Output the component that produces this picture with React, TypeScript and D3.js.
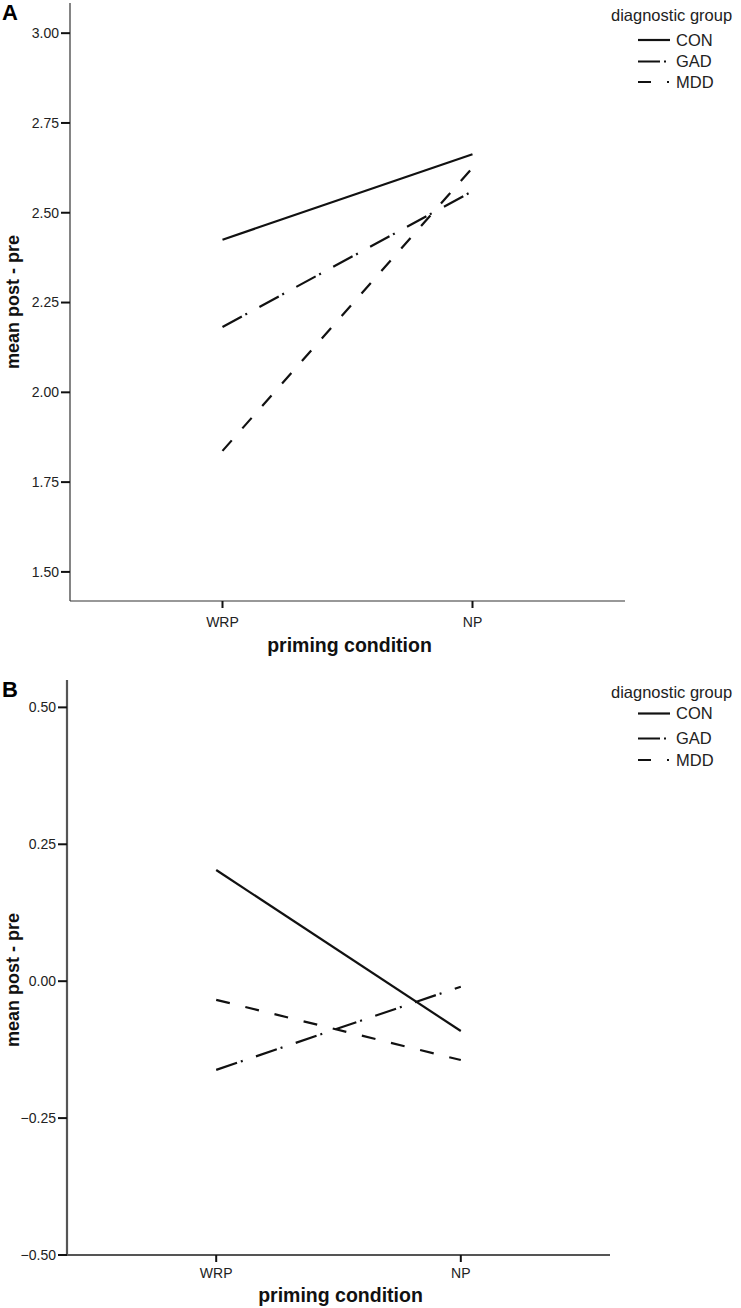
import React from "react";
import * as d3 from "d3";

const categories = ["WRP", "NP"];
const groups = ["CON", "GAD", "MDD"];

// Panel A values (WRP, NP)
const conA = [2.425, 2.663];
const gadA = [2.182, 2.56];
const mddA = [1.837, 2.625];
const ticksA = [1.5, 1.75, 2.0, 2.25, 2.5, 2.75, 3.0];

// Panel B values (WRP, NP)
const conB = [0.203, -0.091];
const gadB = [-0.162, -0.01];
const mddB = [-0.034, -0.144];
const ticksB = [-0.5, -0.25, 0.0, 0.25, 0.5];

const dashes: Record<string, string | undefined> = {
  CON: undefined,
  GAD: "22,4,2,14",
  MDD: "14,16",
};

const FONT = "'Liberation Sans', Arial, sans-serif";

type PanelProps = {
  letter: string;
  letterY: number;
  series: number[][];
  ticks: number[];
  yDomain: [number, number];
  yRange: [number, number];
  xRange: [number, number];
  axisColor: string;
  axisWidth: number;
  legendTitleY: number;
  legendYs: number[];
  xLabelY: number;
  xTitleY: number;
  yTitleY: number;
};

function Panel(p: PanelProps) {
  const x = d3.scalePoint<string>().domain(categories).range(p.xRange).padding(0.61);
  const y = d3.scaleLinear().domain(p.yDomain).range(p.yRange);
  const line = d3
    .line<number>()
    .x((_, i) => x(categories[i]) as number)
    .y((v) => y(v));
  const x0 = p.xRange[0];
  const yBottom = p.yRange[0];
  const yTop = p.yRange[1];
  const xTitleX = ((x(categories[0]) as number) + (x(categories[1]) as number)) / 2 + 2;
  return (
    <g>
      <text x={2} y={p.letterY} fontFamily={FONT} fontWeight="bold" fontSize={22} fill="#000">
        {p.letter}
      </text>
      {/* y axis */}
      <line x1={x0} x2={x0} y1={yTop} y2={yBottom} stroke={p.axisColor} strokeWidth={p.axisWidth} />
      {p.ticks.map((t) => (
        <g key={t}>
          <line x1={x0 - 9} x2={x0} y1={y(t)} y2={y(t)} stroke="#111" strokeWidth={2} />
          <text
            x={x0 - 11}
            y={y(t)}
            dy="0.35em"
            textAnchor="end"
            fontFamily={FONT}
            fontSize={14}
            fill="#222"
          >
            {d3.format(".2f")(t)}
          </text>
        </g>
      ))}
      {/* x axis */}
      <line x1={x0} x2={p.xRange[1]} y1={yBottom} y2={yBottom} stroke={p.axisColor} strokeWidth={p.axisWidth} />
      {categories.map((c) => (
        <g key={c}>
          <line x1={x(c)} x2={x(c)} y1={yBottom} y2={yBottom + 7} stroke="#111" strokeWidth={2} />
          <text
            x={x(c)}
            y={p.xLabelY}
            dy="0.35em"
            textAnchor="middle"
            fontFamily={FONT}
            fontSize={14}
            fill="#222"
          >
            {c}
          </text>
        </g>
      ))}
      <text
        x={xTitleX}
        y={p.xTitleY}
        dy="0.35em"
        textAnchor="middle"
        fontFamily={FONT}
        fontWeight="bold"
        fontSize={19.5}
        fill="#111"
      >
        priming condition
      </text>
      <text
        transform={`translate(13,${p.yTitleY}) rotate(-90)`}
        dy="0.35em"
        textAnchor="middle"
        fontFamily={FONT}
        fontWeight="bold"
        fontSize={18}
        fill="#111"
      >
        mean post - pre
      </text>
      {/* data lines */}
      {p.series.map((s, i) => (
        <path
          key={groups[i]}
          d={line(s) as string}
          fill="none"
          stroke="#111"
          strokeWidth={2.2}
          strokeDasharray={dashes[groups[i]]}
        />
      ))}
      {/* legend */}
      <text x={611} y={p.legendTitleY} dy="0.35em" fontFamily={FONT} fontSize={16.5} fill="#222">
        diagnostic group
      </text>
      {groups.map((g, i) => (
        <g key={g}>
          <line
            x1={638}
            x2={i === 0 ? 670 : i === 1 ? 669 : 669}
            y1={p.legendYs[i]}
            y2={p.legendYs[i]}
            stroke="#111"
            strokeWidth={2.2}
            strokeDasharray={i === 0 ? undefined : i === 1 ? "22,4,2,10" : "13,16,2,10"}
          />
          <text x={676} y={p.legendYs[i]} dy="0.35em" fontFamily={FONT} fontSize={16.5} fill="#222">
            {g}
          </text>
        </g>
      ))}
    </g>
  );
}

export default function App() {
  return (
    <svg
      width={741}
      height={1308}
      style={{ position: "absolute", left: 0, top: 0, background: "#fff" }}
    >
      <rect width={741} height={1308} fill="#fff" />
      <Panel
        letter="A"
        letterY={20}
        series={[conA, gadA, mddA]}
        ticks={ticksA}
        yDomain={[1.419, 3.084]}
        yRange={[601, 3]}
        xRange={[70, 625]}
        axisColor="#333"
        axisWidth={1.2}
        legendTitleY={15}
        legendYs={[40, 61.5, 82]}
        xLabelY={622}
        xTitleY={645}
        yTitleY={302}
      />
      <Panel
        letter="B"
        letterY={697}
        series={[conB, gadB, mddB]}
        ticks={ticksB}
        yDomain={[-0.5, 0.55]}
        yRange={[1255, 680]}
        xRange={[67, 610]}
        axisColor="#555"
        axisWidth={2.2}
        legendTitleY={692}
        legendYs={[713.5, 738.5, 760]}
        xLabelY={1273}
        xTitleY={1295}
        yTitleY={980}
      />
    </svg>
  );
}
